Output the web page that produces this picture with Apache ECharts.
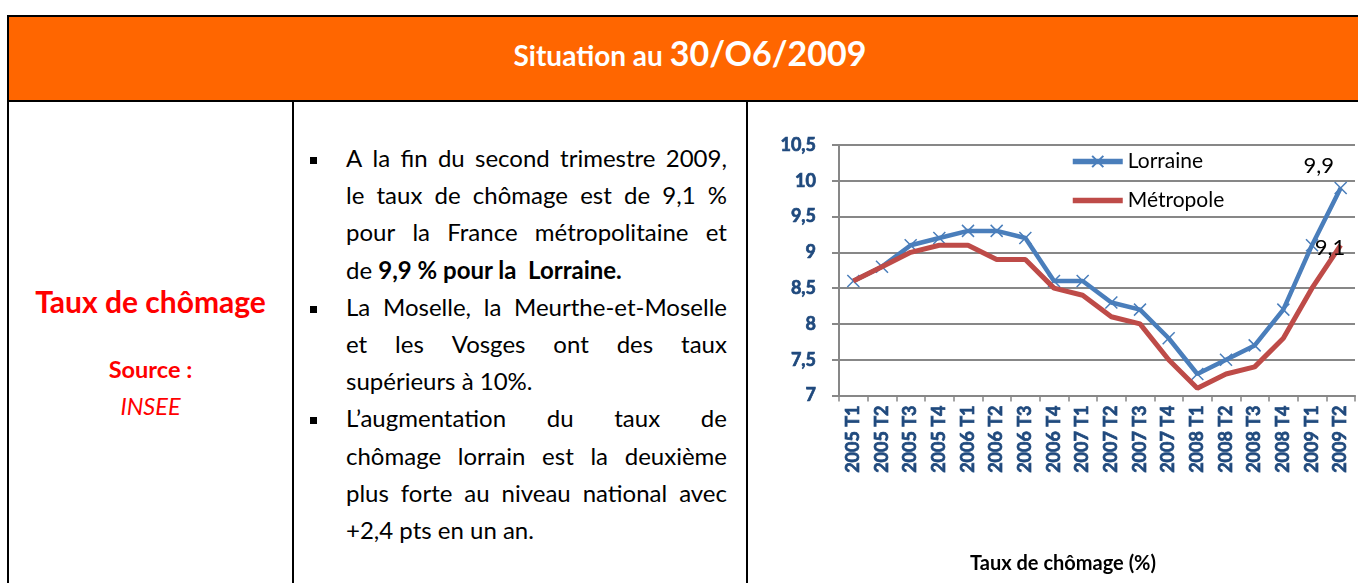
<!DOCTYPE html>
<html>
<head>
<meta charset="utf-8">
<script src="https://cdn.jsdelivr.net/npm/echarts@6/dist/echarts.min.js"></script>
<style>
  html, body { margin:0; padding:0; width:1358px; height:583px; overflow:hidden; background:#fff; font-family: Lato, "Open Sans", sans-serif; }
  .abs { position:absolute; }
  #hdr { left:7px; top:15px; width:1400px; height:87px; box-sizing:border-box; border:2px solid #000; background:#FF6600; }
  #hdrText { left:7px; width:1366px; top:33px; text-align:center; color:#fff; font-weight:bold; font-size:34px; line-height:40px; white-space:nowrap; }
  #hdrText .small { font-size:28px; line-height:1; }
  .vline { background:#000; width:2px; top:100px; height:500px; }
  .red { color:#FF0000; text-align:center; left:9px; width:283px; line-height:1.2; white-space:nowrap; }
  #body { left:346px; top:139px; width:381px; font-size:24px; color:#000; }
  .ln { position:relative; height:37.2px; line-height:37.2px; white-space:nowrap; }
  .ln.j { display:flex; justify-content:space-between; }
  .bul { position:absolute; left:-36px; top:18px; width:7px; height:7px; background:#000; }
  #chart { left:749px; top:102px; width:609px; height:481px; }
</style>
</head>
<body>
<div id="hdr" class="abs"></div>
<div id="hdrText" class="abs"><span class="small">Situation au </span>30/O6/2009</div>
<div class="abs vline" style="left:7px;"></div>
<div class="abs vline" style="left:292px;"></div>
<div class="abs vline" style="left:746px;"></div>

<div class="abs red" style="top:283px; font-size:30px; font-weight:bold;">Taux de chômage</div>
<div class="abs red" style="top:355px; font-size:23.5px; font-weight:bold;">Source :</div>
<div class="abs red" style="top:392px; font-size:23.5px; font-style:italic;">INSEE</div>

<div id="body" class="abs"></div>
<div id="chart" class="abs"></div>

<script>
// ---- data ----
const categories = ['2005 T1','2005 T2','2005 T3','2005 T4','2006 T1','2006 T2','2006 T3','2006 T4',
  '2007 T1','2007 T2','2007 T3','2007 T4','2008 T1','2008 T2','2008 T3','2008 T4','2009 T1','2009 T2'];
const lorraine  = [8.6, 8.8, 9.1, 9.2, 9.3, 9.3, 9.2, 8.6, 8.6, 8.3, 8.2, 7.8, 7.3, 7.5, 7.7, 8.2, 9.1, 9.9];
const metropole = [8.6, 8.8, 9.0, 9.1, 9.1, 8.9, 8.9, 8.5, 8.4, 8.1, 8.0, 7.5, 7.1, 7.3, 7.4, 7.8, 8.5, 9.1];
const seriesNames = ['Lorraine', 'Métropole'];
const yMin = 7, yMax = 10.5, yStep = 0.5;
const chartTitle = 'Taux de chômage (%)';

// ---- text block (explicit line breaks, justified lines) ----
const bodyLines = [
  {b:true,  j:true,  t:'A la fin du second trimestre 2009,'},
  {b:false, j:true,  t:'le taux de chômage est de 9,1 %'},
  {b:false, j:true,  t:'pour la France métropolitaine et'},
  {b:false, j:false, h:'de <b>9,9 % pour la&nbsp; Lorraine.</b>'},
  {b:true,  j:true,  t:'La Moselle, la Meurthe-et-Moselle'},
  {b:false, j:true,  t:'et les Vosges ont des taux'},
  {b:false, j:false, t:'supérieurs à 10%.'},
  {b:true,  j:true,  t:'L’augmentation du taux de'},
  {b:false, j:true,  t:'chômage lorrain est la deuxième'},
  {b:false, j:true,  t:'plus forte au niveau national avec'},
  {b:false, j:false, t:'+2,4 pts en un an.'}
];
const body = document.getElementById('body');
bodyLines.forEach(l => {
  const d = document.createElement('div');
  d.className = 'ln' + (l.j ? ' j' : '');
  if (l.j) {
    l.t.split(' ').forEach(w => { const s = document.createElement('span'); s.textContent = w; d.appendChild(s); });
  } else if (l.h) {
    d.innerHTML = l.h;
  } else {
    d.textContent = l.t;
  }
  if (l.b) { const q = document.createElement('div'); q.className = 'bul'; d.appendChild(q); }
  body.appendChild(d);
});

// ---- chart ----
const blue = '#4A7EBB', red = '#BE4B48', navy = '#1F497D', grid = '#878787';
const lastIdx = categories.length - 1;
const font = 'Lato';
const barIcon = 'path://M0,0L50,0L50,0.01L0,0.01Z M0,4.3L50,4.3L50,9.7L0,9.7Z M0,13.99L50,13.99L50,14L0,14Z';
const boldLabel = { fontFamily: font, fontWeight: 'bold', fontSize: 18, color: navy, textBorderColor: navy, textBorderWidth: 0.7 };
const chart = echarts.init(document.getElementById('chart'));
chart.setOption({
  animation: false,
  title: {
    text: chartTitle, left: 309, textAlign: 'center', top: 446,
    textStyle: { fontFamily: font, fontWeight: 'bold', fontSize: 20, color: '#000', lineHeight: 22 }
  },
  legend: {
    data: [
      { name: seriesNames[0], lineStyle: { width: 5.5, color: blue } },
      { name: seriesNames[1], icon: barIcon, itemStyle: { opacity: 1, color: red } }
    ],
    orient: 'vertical', left: 316, top: 44,
    itemWidth: 50, itemHeight: 14, itemGap: 18,
    textStyle: { fontFamily: font, fontSize: 21, color: '#000' }
  },
  grid: { left: 90, right: 3, top: 43, bottom: 187.5 },
  xAxis: {
    type: 'category', data: categories, boundaryGap: true,
    axisLine: { lineStyle: { color: grid, width: 2 } },
    axisTick: { show: true, length: 6, lineStyle: { color: grid, width: 1.5 } },
    axisLabel: Object.assign({ interval: 0, rotate: 90, margin: 10 }, boldLabel)
  },
  yAxis: {
    type: 'value', min: yMin, max: yMax, interval: yStep,
    axisLine: { show: true, lineStyle: { color: grid, width: 2 } },
    axisTick: { show: true, length: 7, lineStyle: { color: grid, width: 2 } },
    splitLine: { lineStyle: { color: grid, width: 2 } },
    axisLabel: Object.assign({ margin: 23, formatter: v => String(v).replace('.', ',') }, boldLabel)
  },
  series: [
    {
      name: seriesNames[0], type: 'line', z: 2,
      data: lorraine.map((v, i) => i === lastIdx ? { value: v, label: { show: true, position: 'top', offset: [-22, 1] } } : v),
      symbol: 'path://M0,0L10,10M10,0L0,10', symbolSize: 12, showSymbol: true,
      lineStyle: { color: blue, width: 4.5 },
      itemStyle: { color: blue, borderColor: blue, borderWidth: 1.5 },
      label: { fontFamily: font, fontSize: 22, color: '#000', formatter: p => String(p.value).replace('.', ',') }
    },
    {
      name: seriesNames[1], type: 'line', z: 3,
      data: metropole.map((v, i) => i === lastIdx ? { value: v, label: { show: true, position: 'left', distance: 0, offset: [5, 3] } } : v),
      symbol: 'circle', symbolSize: 1, showSymbol: true,
      lineStyle: { color: red, width: 5 },
      itemStyle: { color: red, opacity: 0 },
      label: { fontFamily: font, fontSize: 22, color: '#000', opacity: 1, formatter: p => String(p.value).replace('.', ',') }
    }
  ]
});
</script>
</body>
</html>
